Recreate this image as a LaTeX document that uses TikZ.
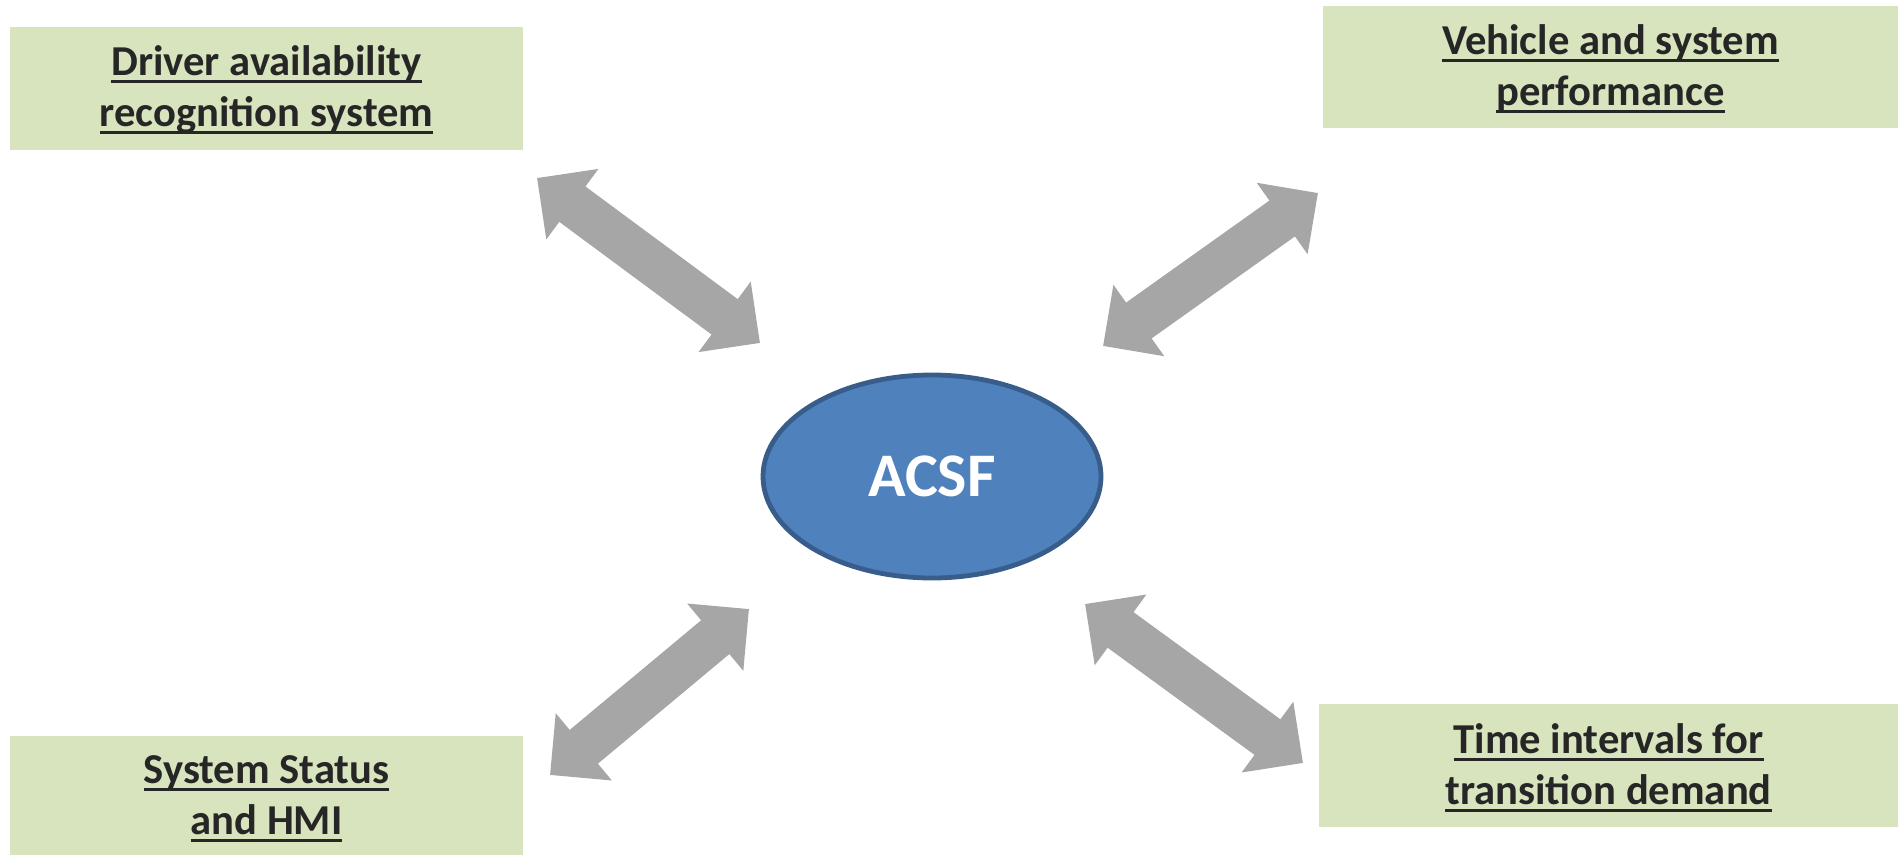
\documentclass[tikz,border=0pt]{standalone}
\usepackage{fontspec}
\setmainfont{Carlito}
\usetikzlibrary{arrows.meta, shapes.geometric}

\definecolor{boxgreen}{HTML}{D7E4BD}
\definecolor{arrowgray}{HTML}{A6A6A6}
\definecolor{acsfblue}{HTML}{4F81BD}
\definecolor{acsfedge}{HTML}{385D8A}
\definecolor{labeltext}{HTML}{262626}

% underline at a fixed depth, as the slide does
\newcommand{\ulword}[1]{\setbox0\hbox{#1}\rule[-2.5pt]{0pt}{18.5pt}%
  \rlap{\smash{\color{labeltext}\rule[-3.7pt]{\wd0}{1.4pt}}}\box0}

\tikzset{
  topicbox/.style={rectangle, fill=boxgreen, inner sep=0pt, align=center,
    text=labeltext, font=\fontsize{21.3pt}{25.5pt}\selectfont\bfseries},
  linkarrow/.style={draw=arrowgray, line width=22pt,
    {Triangle[length=22pt, width=42.5pt]}-{Triangle[length=22pt, width=42.5pt]}}
}

\begin{document}
\begin{tikzpicture}[x=0.5pt,y=0.5pt,yscale=-1,xscale=1]
\useasboundingbox (0,0) rectangle (1898,855);

%Shape: Ellipse
\node[ellipse, fill=acsfblue, draw=acsfedge, line width=2.4pt, inner sep=0pt,
  minimum width=169pt, minimum height=101.5pt, text=white,
  font=\fontsize{31pt}{36pt}\selectfont\bfseries] (acsf) at (932,476.5) {ACSF};

% Text Node
\node[topicbox, minimum width=256.5pt, minimum height=61.5pt] (driver) at (266.5,88.5)
  {\ulword{Driver availability}\\\ulword{recognition system}};
% Text Node
\node[topicbox, minimum width=287.5pt, minimum height=61pt] (vehicle) at (1610.5,67)
  {\ulword{Vehicle and system}\\\ulword{performance}};
% Text Node
\node[topicbox, minimum width=256.5pt, minimum height=59.5pt] (status) at (266.5,795.5)
  {\ulword{System Status}\\\ulword{and HMI}};
% Text Node
\node[topicbox, minimum width=289.5pt, minimum height=61.5pt] (timing) at (1608.5,765.5)
  {\ulword{Time intervals for}\\\ulword{transition demand}};

% arrow ends
\coordinate (driver-end) at (537,178);
\coordinate (driver-acsf) at (760,343);
\coordinate (vehicle-end) at (1318,193);
\coordinate (vehicle-acsf) at (1103,346);
\coordinate (status-end) at (550,775);
\coordinate (status-acsf) at (749,609);
\coordinate (timing-end) at (1303,763);
\coordinate (timing-acsf) at (1085,604);

%Straight Lines
\draw[linkarrow] (driver-end) -- (driver-acsf);
\draw[linkarrow] (vehicle-acsf) -- (vehicle-end);
\draw[linkarrow] (status-end) -- (status-acsf);
\draw[linkarrow] (timing-acsf) -- (timing-end);

\end{tikzpicture}
\end{document}
